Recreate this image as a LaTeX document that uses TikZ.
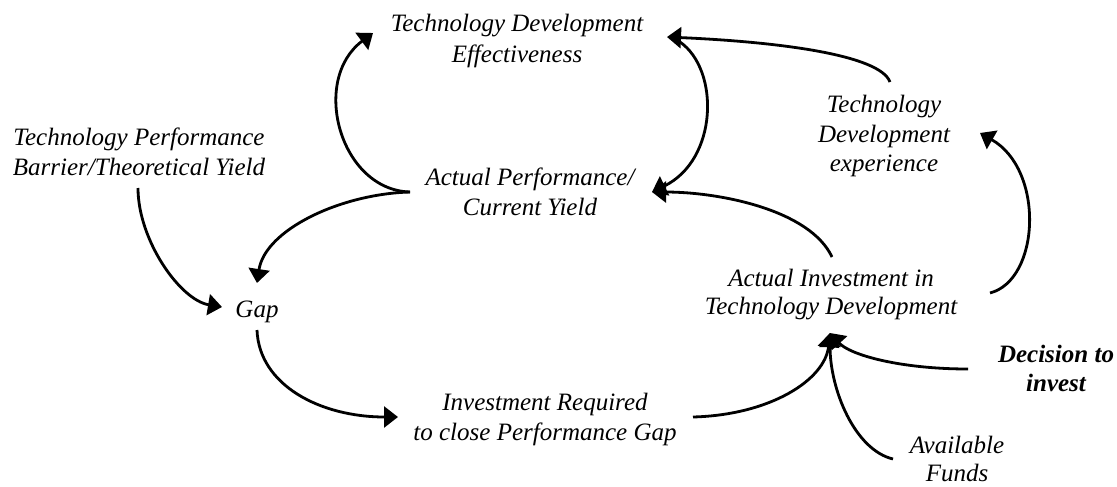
\documentclass[tikz,border=0pt]{standalone}
\usepackage{fontspec}
\setmainfont{Liberation Serif}
\usetikzlibrary{arrows.meta}
\tikzset{
  lbl/.style={inner sep=0pt, anchor=north, align=center, font=\itshape\fontsize{25}{30}\selectfont},
  arr/.style={line width=2.8pt, -{Triangle[length=14pt,width=21pt]}}
}
\begin{document}
\begin{tikzpicture}[x=1pt,y=-1pt]
\useasboundingbox (0,0) rectangle (1117,487);
% nodes
\node[lbl, font=\itshape\fontsize{25}{31}\selectfont] (tde) at (517,10) {\strut Technology Development\\Effectiveness};
\node[lbl] (tpb) at (139,124) {\strut Technology Performance\\Barrier/Theoretical Yield};
\node[lbl] (ap) at (530,164) {\strut Actual Performance/\\Current Yield};
\node[lbl] (gap) at (257,296) {\strut Gap};
\node[lbl] (ir) at (545,389) {\strut Investment Required\\to close Performance Gap};
\node[lbl, font=\itshape\fontsize{25}{28}\selectfont] (ai) at (831,267) {\strut Actual Investment in\\Technology Development};
\node[lbl, font=\itshape\fontsize{25}{29.5}\selectfont] (tdx) at (884,92) {\strut Technology\\Development\\experience};
\node[lbl, font=\bfseries\itshape\fontsize{25}{29}\selectfont] (dec) at (1056,342) {\strut Decision to\\invest};
\node[lbl, font=\itshape\fontsize{25}{28}\selectfont] (af) at (957,434) {\strut Available\\Funds};
% connector end points
\coordinate (apL) at (410,192);
\coordinate (tdeL) at (373,33);
\coordinate (gapT) at (257,283);
\coordinate (tpbB) at (138,188);
\coordinate (gapL) at (222,307);
\coordinate (gapB) at (257,330);
\coordinate (irL) at (398,417);
\coordinate (irR) at (693,417);
\coordinate (aiB) at (830,333);
\coordinate (decL) at (968,369);
\coordinate (afL) at (893,459);
\coordinate (aiT) at (832,257);
\coordinate (apR) at (652,192);
\coordinate (tdeR) at (667,37);
\coordinate (tdeRb) at (680,42);
\coordinate (tdxT) at (890,82);
\coordinate (aiR) at (990,293);
\coordinate (tdxR) at (980,133);
% connectors
\draw[arr] (apL) .. controls (340,190) and (310,80) .. (tdeL);
\draw[arr] (apL) .. controls (340,194) and (265,230) .. (gapT);
\draw[arr] (tpbB) .. controls (138,240) and (180,300) .. (gapL);
\draw[arr] (gapB) .. controls (259,385) and (320,417) .. (irL);
\draw[arr] (irR) .. controls (770,415) and (825,380) .. (aiB);
\draw[arr] (decL) .. controls (900,369) and (850,355) .. (aiB);
\draw[arr] (afL) .. controls (855,450) and (830,390) .. (aiB);
\draw[arr] (aiT) .. controls (810,210) and (720,192) .. (apR);
\draw[arr] (tdeRb) .. controls (720,70) and (718,160) .. (apR);
\draw[arr] (tdxT) .. controls (880,55) and (780,42) .. (tdeR);
\draw[arr] (aiR) .. controls (1040,280) and (1045,170) .. (tdxR);
\end{tikzpicture}
\end{document}
